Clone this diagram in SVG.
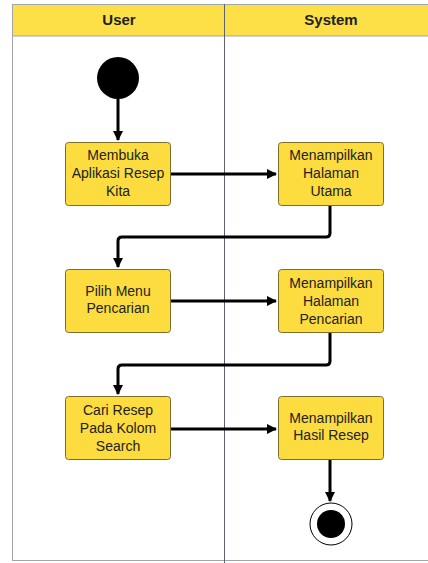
<svg xmlns="http://www.w3.org/2000/svg" width="428" height="563" viewBox="0 0 428 563">
<style>
.box{fill:#fcdc3e;stroke:#7d6e2c;stroke-width:1}
.t{font-family:"Liberation Sans",Arial,sans-serif;font-size:14px;fill:#222;text-anchor:middle}
.h{font-family:"Liberation Sans",Arial,sans-serif;font-size:15px;font-weight:bold;fill:#222;text-anchor:middle}
.c{fill:none;stroke:#000;stroke-width:3;stroke-linejoin:round}
</style>
<defs>
<marker id="ah" markerWidth="10" markerHeight="10" refX="9" refY="5" orient="auto" markerUnits="userSpaceOnUse" viewBox="0 0 10 10">
<path d="M0,0 L10,5 L0,10 z" fill="#000"/>
</marker>
</defs>
<rect width="428" height="563" fill="#fff"/>
<g id="lanes">
<rect x="12.5" y="4.5" width="430" height="556" fill="#fff" stroke="#a0a4ab" stroke-width="1"/>
<rect x="12.5" y="4.5" width="430" height="31.5" fill="#fde047" stroke="#a0a4ab" stroke-width="1"/>
<line x1="224.5" y1="4" x2="224.5" y2="563" stroke="#5c6375" stroke-width="1"/>
<text class="h" x="119" y="25">User</text>
<text class="h" x="331" y="25">System</text>
</g>
<g id="connectors">
<path class="c" d="M118,99 V140" marker-end="url(#ah)"/>
<path class="c" d="M171,174 H276" marker-end="url(#ah)"/>
<path class="c" d="M330,206 V233 Q330,237 326,237 H122 Q118,237 118,241 V267" marker-end="url(#ah)"/>
<path class="c" d="M171,301 H276" marker-end="url(#ah)"/>
<path class="c" d="M330,333 V361 Q330,365 326,365 H122 Q118,365 118,369 V394" marker-end="url(#ah)"/>
<path class="c" d="M171,429 H276" marker-end="url(#ah)"/>
<path class="c" d="M330,460 V501" marker-end="url(#ah)"/>
</g>
<g id="start"><circle cx="118" cy="78" r="21" fill="#000"/></g>
<g id="n1"><rect class="box" x="65.5" y="142.5" width="105" height="63" rx="3"/>
<text class="t" x="118" y="160">Membuka</text><text class="t" x="118" y="178">Aplikasi Resep</text><text class="t" x="118" y="196">Kita</text></g>
<g id="n2"><rect class="box" x="278.5" y="142.5" width="105" height="63" rx="3"/>
<text class="t" x="331" y="160">Menampilkan</text><text class="t" x="331" y="178">Halaman</text><text class="t" x="331" y="196">Utama</text></g>
<g id="n3"><rect class="box" x="65.5" y="269.5" width="105" height="63" rx="3"/>
<text class="t" x="118" y="296">Pilih Menu</text><text class="t" x="118" y="313">Pencarian</text></g>
<g id="n4"><rect class="box" x="278.5" y="269.5" width="105" height="63" rx="3"/>
<text class="t" x="331" y="288">Menampilkan</text><text class="t" x="331" y="306">Halaman</text><text class="t" x="331" y="324">Pencarian</text></g>
<g id="n5"><rect class="box" x="65.5" y="396.5" width="105" height="63" rx="3"/>
<text class="t" x="118" y="415">Cari Resep</text><text class="t" x="118" y="433">Pada Kolom</text><text class="t" x="118" y="451">Search</text></g>
<g id="n6"><rect class="box" x="278.5" y="396.5" width="105" height="63" rx="3"/>
<text class="t" x="331" y="423">Menampilkan</text><text class="t" x="331" y="440">Hasil Resep</text></g>
<g id="end"><circle cx="331" cy="524" r="21" fill="#fff" stroke="#000" stroke-width="1"/><circle cx="331" cy="524" r="14" fill="#000"/></g>
</svg>
